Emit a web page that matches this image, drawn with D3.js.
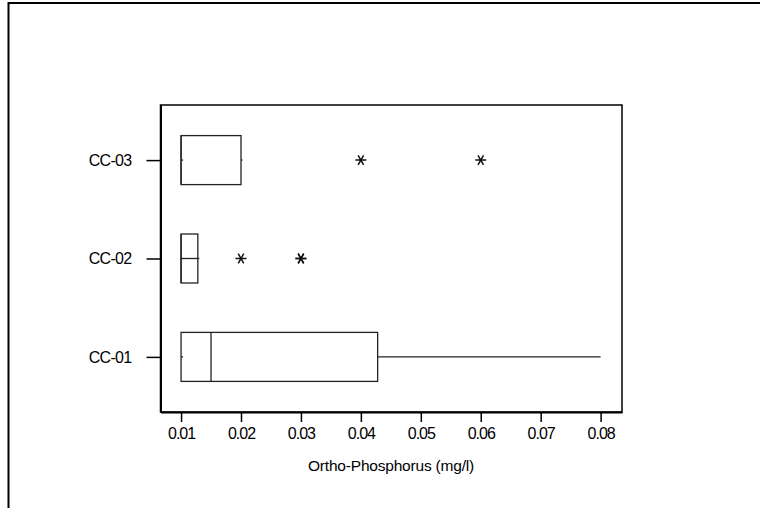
<!DOCTYPE html>
<html>
<head>
<meta charset="utf-8">
<script src="https://cdn.jsdelivr.net/npm/d3@7"></script>
<style>
  html, body { margin: 0; padding: 0; background: #fff; }
  svg { display: block; }
  text { font-family: "Liberation Sans", Arial, sans-serif; fill: #000; }
</style>
</head>
<body>
<svg id="chart" width="760" height="508"></svg>
<script>
// Sampling sites (bottom to top)
const sites = ["CC-01", "CC-02", "CC-03"];
// Box summaries per site (mg/l)
const whiskerLow  = [0.01,   0.01,   0.01];
const q1          = [0.01,   0.01,   0.01];
const median      = [0.015,  0.01,   0.01];
const q3          = [0.0428, 0.0128, 0.02];
const whiskerHigh = [0.08,   0.0128, 0.02];
// Outlying observations per site
const outliers = [
  [],
  [0.02, 0.03, 0.03],
  [0.04, 0.06]
];
const xTicks = [0.01, 0.02, 0.03, 0.04, 0.05, 0.06, 0.07, 0.08];
const xTitle = "Ortho-Phosphorus (mg/l)";

const svg = d3.select("#chart");

// Outer page frame
svg.append("rect")
  .attr("x", 8.5).attr("y", 3)
  .attr("width", 800).attr("height", 600)
  .attr("fill", "none").attr("stroke", "#000").attr("stroke-width", 2);

const plot = { left: 160.5, right: 622, top: 105, bottom: 412 };

const x = d3.scaleLinear()
  .domain([0.00657, 0.08357])
  .range([plot.left, plot.right]);

const y = d3.scalePoint()
  .domain(sites)
  .range([plot.bottom, plot.top])
  .padding(0.56);

const boxH = 49;
const ink = "#222";

// Plot frame
svg.append("rect")
  .attr("x", plot.left).attr("y", plot.top)
  .attr("width", plot.right - plot.left).attr("height", plot.bottom - plot.top)
  .attr("fill", "none").attr("stroke", "#000").attr("stroke-width", 1.5);

// Bottom axis
const gx = svg.append("g")
  .attr("transform", `translate(0,${plot.bottom})`)
  .call(d3.axisBottom(x).tickValues(xTicks).tickFormat(d3.format(".2f"))
    .tickSize(10).tickSizeOuter(0).tickPadding(6));
gx.select(".domain").attr("stroke", "#000").attr("stroke-width", 2);
gx.selectAll(".tick line").attr("stroke", "#000").attr("stroke-width", 1.5);
gx.selectAll(".tick text")
  .attr("font-size", 16).attr("letter-spacing", "-1px")
  .attr("font-family", "'Liberation Sans', Arial, sans-serif").attr("fill", "#000");

// Left axis
const gy = svg.append("g")
  .attr("transform", `translate(${plot.left},0)`)
  .call(d3.axisLeft(y).tickSize(14).tickSizeOuter(0).tickPadding(15));
gy.select(".domain").attr("stroke", "#000").attr("stroke-width", 2);
gy.selectAll(".tick line").attr("stroke", "#000").attr("stroke-width", 1.5);
gy.selectAll(".tick text")
  .attr("font-size", 16).attr("letter-spacing", "-0.7px")
  .attr("font-family", "'Liberation Sans', Arial, sans-serif").attr("fill", "#000");

// Axis title
svg.append("text")
  .attr("x", 391).attr("y", 471)
  .attr("text-anchor", "middle")
  .attr("font-size", 15.5)
  .attr("letter-spacing", "-0.2px")
  .text(xTitle);

// Boxes
const rows = sites.map((s, i) => ({
  site: s, lo: whiskerLow[i], q1: q1[i], med: median[i], q3: q3[i], hi: whiskerHigh[i],
  out: outliers[i]
}));

const g = svg.append("g").attr("fill", "none").attr("stroke", ink).attr("stroke-width", 1.3);

rows.forEach(r => {
  const cy = y(r.site);
  const x1 = x(r.q1), x3 = x(r.q3);
  g.append("rect")
    .attr("x", x1).attr("y", cy - boxH / 2)
    .attr("width", x3 - x1).attr("height", boxH);
  // median
  g.append("line")
    .attr("x1", x(r.med)).attr("x2", x(r.med))
    .attr("y1", cy - boxH / 2).attr("y2", cy + boxH / 2);
  // whiskers (a short stub marks a zero-length whisker)
  const lowEnd = x(r.lo) < x1 - 1 ? x(r.lo) : x1 + 2;
  const highEnd = x(r.hi) > x3 + 1 ? x(r.hi) : x3 + 1.5;
  g.append("line").attr("x1", x1).attr("x2", lowEnd).attr("y1", cy).attr("y2", cy);
  g.append("line").attr("x1", x3).attr("x2", highEnd).attr("y1", cy).attr("y2", cy);
  // narrow boxes carry a centre line across
  if (x3 - x1 < 20) {
    g.append("line").attr("x1", x1).attr("x2", x3).attr("y1", cy).attr("y2", cy);
  }
  // outliers drawn as asterisks
  r.out.forEach(v => {
    const cx = x(v), a = 5.5;
    const dx = a * Math.cos(Math.PI / 3), dy = a * Math.sin(Math.PI / 3);
    g.append("path")
      .attr("stroke", "#111").attr("stroke-width", 1.5)
      .attr("d", `M${cx - a},${cy}L${cx + a},${cy}` +
                 `M${cx - dx},${cy - dy}L${cx + dx},${cy + dy}` +
                 `M${cx - dx},${cy + dy}L${cx + dx},${cy - dy}`);
  });
});
</script>
</body>
</html>
